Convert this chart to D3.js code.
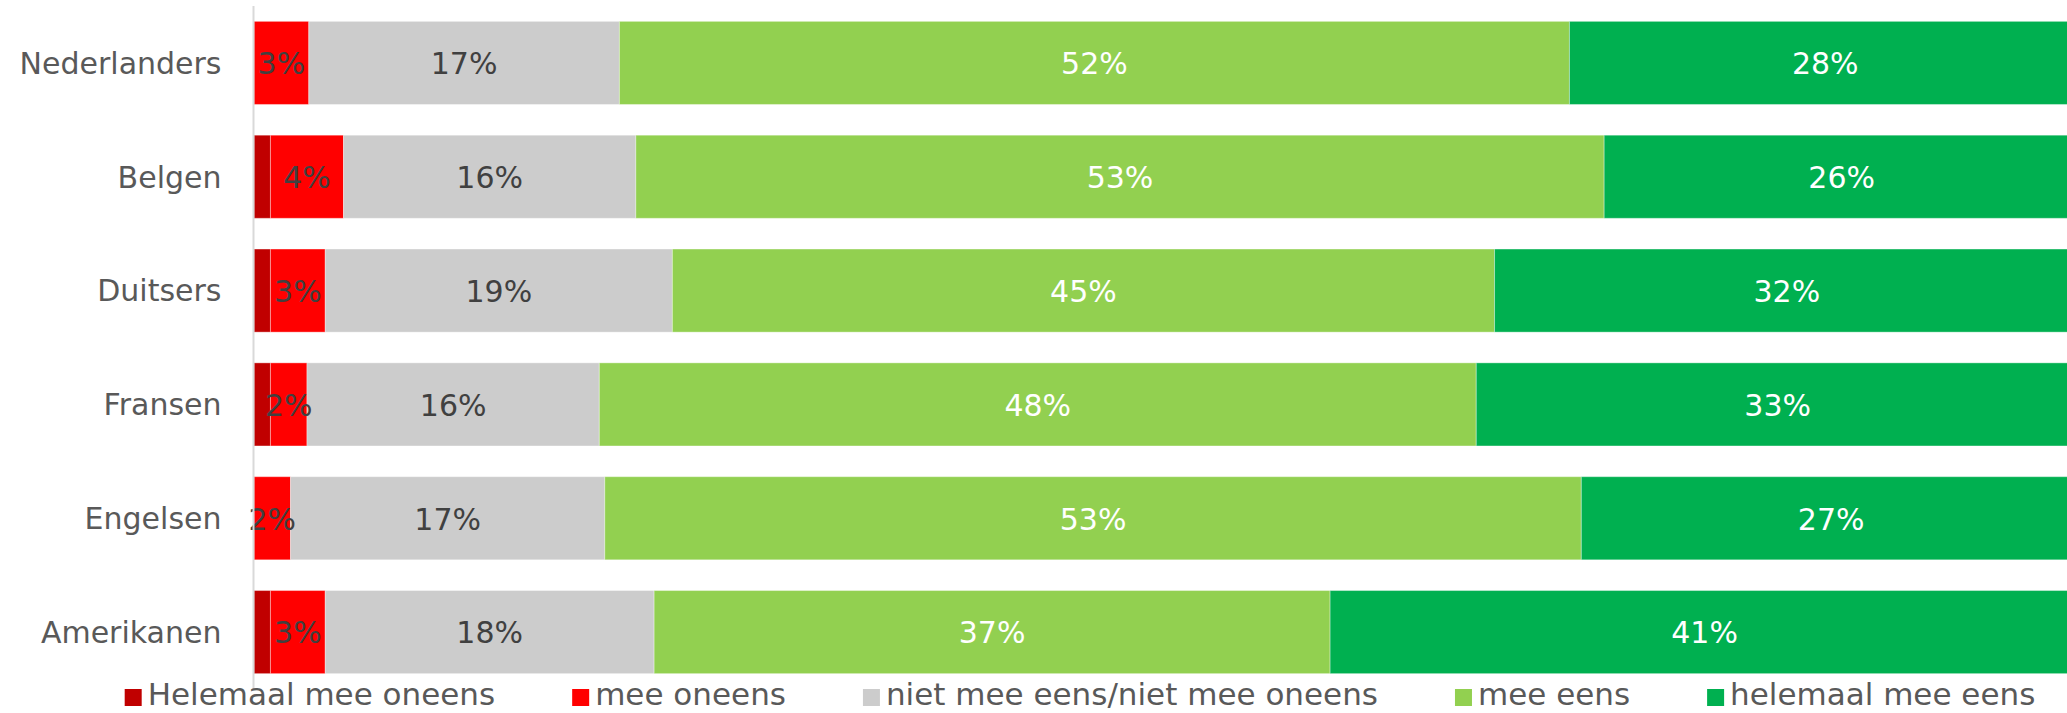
<!DOCTYPE html>
<html lang="nl">
<head>
<meta charset="utf-8">
<script src="https://cdn.jsdelivr.net/npm/d3@7/dist/d3.min.js"></script>
<style>
  html, body { margin: 0; padding: 0; background: #ffffff; }
  svg { display: block; }
  text { font-family: "DejaVu Sans", "Noto Sans", sans-serif; }
</style>
</head>
<body>
<svg id="chart" width="2067" height="713"></svg>
<script>
// Survey answers per nationality (percent of respondents)
const categories = ["Nederlanders", "Belgen", "Duitsers", "Fransen", "Engelsen", "Amerikanen"];
const helemaalMeeOneens = [0, 0.9, 0.9, 0.9, 0, 0.9];
const meeOneens = [3, 4, 3, 2, 2, 3];
const neutraal = [17, 16, 19, 16, 17.2, 18];
const meeEens = [52, 53, 45, 48, 53.45, 37];
const helemaalMeeEens = [28, 26, 32, 33, 27.35, 41];

const seriesNames = ["Helemaal mee oneens", "mee oneens", "niet mee eens/niet mee oneens", "mee eens", "helemaal mee eens"];
const seriesKeys = ["hmo", "mo", "nn", "me", "hme"];
const seriesColors = ["#C00000", "#FF0000", "#CCCCCC", "#92D050", "#00B050"];
const labelColors = [null, "#404040", "#404040", "#FFFFFF", "#FFFFFF"];
const xDomain = [0, 100];

const rows = categories.map((c, i) => ({
  cat: c,
  hmo: helemaalMeeOneens[i],
  mo: meeOneens[i],
  nn: neutraal[i],
  me: meeEens[i],
  hme: helemaalMeeEens[i]
}));

const svg = d3.select("#chart");
const plotLeft = 254, plotRight = 2081, plotTop = 6, plotBottom = 689;

const x = d3.scaleLinear().domain(xDomain).range([plotLeft, plotRight]);
const y = d3.scaleBand().domain(categories).range([plotTop, plotBottom])
  .paddingInner(0.27).paddingOuter(0.135);
const color = d3.scaleOrdinal().domain(seriesKeys).range(seriesColors);

const stacked = d3.stack().keys(seriesKeys)(rows);

// Stacked bar segments
const layers = svg.append("g").selectAll("g")
  .data(stacked)
  .join("g")
  .attr("fill", d => color(d.key));

layers.selectAll("rect")
  .data(d => d)
  .join("rect")
  .attr("x", d => x(d[0]))
  .attr("y", d => y(d.data.cat))
  .attr("width", d => Math.max(0, x(d[1]) - x(d[0])))
  .attr("height", y.bandwidth())
  .attr("stroke", "#ffffff")
  .attr("stroke-opacity", 0.35)
  .attr("stroke-width", 1);

// Value labels (all series except the first, which is unlabelled)
const valueFont = 30;
stacked.forEach((layer, li) => {
  if (!labelColors[li]) return;
  svg.append("g").selectAll("text")
    .data(layer)
    .join("text")
    .attr("x", d => (x(d[0]) + x(d[1])) / 2)
    .attr("y", d => y(d.data.cat) + y.bandwidth() / 2 + valueFont * 0.38)
    .attr("text-anchor", "middle")
    .attr("font-size", valueFont)
    .attr("fill", labelColors[li])
    .text(d => Math.round(d[1] - d[0]) + "%");
});

// Category axis
const yAxis = svg.append("g")
  .attr("transform", `translate(${plotLeft - 0.5},0)`)
  .call(d3.axisLeft(y).tickSize(0).tickPadding(32));
yAxis.select(".domain")
  .attr("d", `M0,${plotTop}V${plotBottom + 1}`)
  .attr("stroke", "#D9D9D9")
  .attr("stroke-width", 2);
yAxis.selectAll(".tick text")
  .attr("font-family", "DejaVu Sans, sans-serif")
  .attr("font-size", 30)
  .attr("fill", "#595959")
  .attr("dy", null)
  .attr("y", 30 * 0.36);

// Legend
const legendFont = 31;
const legendCenterX = 1080, sw = 17, squareTop = 689, textBaseline = 705, textGap = 23, itemGap = 77;
const legend = svg.append("g");
const items = legend.selectAll("g")
  .data(seriesNames)
  .join("g");
items.append("rect")
  .attr("width", sw).attr("height", sw)
  .attr("y", squareTop)
  .attr("fill", (d, i) => seriesColors[i]);
items.append("text")
  .attr("x", textGap)
  .attr("y", textBaseline)
  .attr("font-size", legendFont)
  .attr("fill", "#595959")
  .text(d => d);

let widths = [];
items.each(function () {
  widths.push(textGap + d3.select(this).select("text").node().getComputedTextLength());
});
const total = d3.sum(widths) + itemGap * (widths.length - 1);
let cx = legendCenterX - total / 2;
items.attr("transform", (d, i) => {
  const t = `translate(${cx},0)`;
  cx += widths[i] + itemGap;
  return t;
});
</script>
</body>
</html>
